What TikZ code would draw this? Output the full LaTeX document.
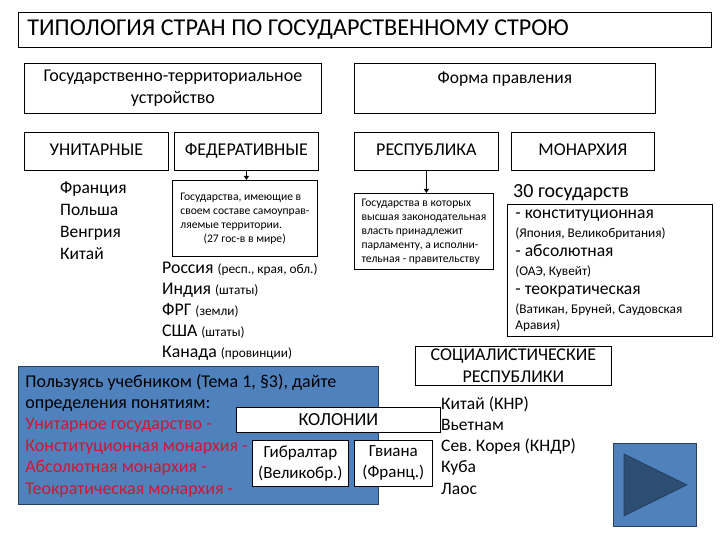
\documentclass[tikz,border=0pt]{standalone}
\usepackage{fontspec}
\setmainfont{Carlito}
\usetikzlibrary{arrows.meta}

\definecolor{slideblue}{RGB}{79,129,189}
\definecolor{slidenavy}{RGB}{37,64,97}
\definecolor{taskred}{RGB}{204,24,52}
\newcommand{\fsz}[2]{\fontsize{#1}{#2}\selectfont}
\newcommand{\aside}[1]{{\fsz{13.3}{19}#1}}
\newcommand{\term}[1]{\textcolor{taskred}{#1}}
\frenchspacing

\tikzset{
  box/.style={draw=black, line width=0.8pt, fill=white, anchor=north west, inner sep=0pt, align=center},
  typebox/.style={box, minimum width=144pt, minimum height=38pt, text height=12pt, text depth=3pt, font=\fsz{18}{20}},
  note/.style={box, align=flush left, minimum height=76pt, font=\fsz{11.6}{14}},
  plain/.style={anchor=north west, inner sep=0pt, align=flush left},
  down/.style={-{Triangle[length=4pt,width=5pt]}, line width=1.2pt},
}

\begin{document}
\begin{tikzpicture}[x=1pt, y=-1pt]
    \useasboundingbox (0,0) rectangle (720,540);

    % Title bar
    \node[box, align=flush left, text width=675pt, inner xsep=9pt, minimum height=35pt, font=\fsz{24.2}{28}] (title) at (18,12) {ТИПОЛОГИЯ СТРАН ПО ГОСУДАРСТВЕННОМУ СТРОЮ};

    % Two headings
    \node[box, minimum width=297pt, minimum height=50pt, font=\fsz{18}{22}] (terr) at (24,63) {Государственно-территориальное\\устройство};
    \node[box, minimum width=301pt, minimum height=50pt, font=\fsz{17.5}{22}] (rule) at (354,63) {Форма правления\\\mbox{}};

    % Types
    \node[typebox] (unitary) at (24,132) {УНИТАРНЫЕ};
    \node[typebox] (federal) at (174,132) {ФЕДЕРАТИВНЫЕ};
    \node[typebox] (republic) at (354,132) {РЕСПУБЛИКА};
    \node[typebox, minimum width=143pt] (monarchy) at (511,132) {МОНАРХИЯ};

    % Explanations under federal and republic
    \node[note, minimum width=145pt] (fednote) at (172,180) {Государства, имеющие в\\своем составе самоуправ-\\ляемые территории.\\\hspace*{2em}(27 гос-в в мире)};
    \node[note, minimum width=139pt] (repnote) at (354,193) {Государства в которых\\высшая законодательная\\власть принадлежит\\парламенту, а исполни-\\тельная - правительству};
    \draw[down] (federal.south) -- (federal.south |- fednote.north);
    \draw[down] (republic.south) -- (republic.south |- repnote.north);

    % Country lists
    \node[plain, font=\fsz{17.5}{22}] (unilist) at (60,182) {Франция\\Польша\\Венгрия\\Китай};
    \node[plain, font=\fsz{17.8}{21}] (fedlist) at (162,262) {Россия \aside{(респ., края, обл.)}\\Индия \aside{(штаты)}\\ФРГ \aside{(земли)}\\США \aside{(штаты)}\\Канада \aside{(провинции)}};

    % Monarchies
    \node[plain, font=\fsz{20}{22}] (count) at (513,184) {30 государств};
    \node[box, align=flush left, text width=189pt, inner xsep=8pt, minimum height=132pt, font=\fsz{17.6}{19}] (monlist) at (507,204) {- конституционная\\\aside{(Япония, Великобритания)}\\- абсолютная\\\aside{(ОАЭ, Кувейт)}\\- теократическая\\\aside{(Ватикан, Бруней, Саудовская}\\[-3pt]\aside{Аравия)}};

    % Socialist republics
    \node[box, minimum width=196pt, minimum height=39pt, font=\fsz{18}{22}] (social) at (415,346) {СОЦИАЛИСТИЧЕСКИЕ\\РЕСПУБЛИКИ};
    \node[plain, font=\fsz{17.5}{21.3}] (soclist) at (441,396) {Китай (КНР)\\Вьетнам\\Сев. Корея (КНДР)\\Куба\\Лаос};

    % Task panel
    \node[box, fill=slideblue, draw=slidenavy, align=flush left, text width=346pt, inner xsep=7pt, minimum height=138pt, font=\fsz{18}{21.4}] (task) at (18,366) {Пользуясь учебником (Тема 1, §3), дайте\\определения понятиям:\\\term{Унитарное государство -}\\\term{Конституционная монархия -}\\\term{Абсолютная монархия -}\\\term{Теократическая монархия -}};

    % Colonies
    \node[box, minimum width=204pt, minimum height=25pt, font=\fsz{18.4}{20}] (colonies) at (236,407) {КОЛОНИИ};
    \node[box, minimum width=96pt, minimum height=46pt, font=\fsz{17}{21}] (gibraltar) at (252,440) {Гибралтар\\(Великобр.)};
    \node[box, minimum width=78pt, minimum height=46pt, font=\fsz{17}{21}] (guiana) at (354,440) {Гвиана\\(Франц.)};

    % Play button
    \node[box, fill=slideblue, draw=slidenavy, minimum size=83pt] (play) at (613,443) {};
    \filldraw[fill=slidenavy!80!slideblue, draw=slidenavy, line width=0.8pt] ([shift={(11,11)}]play.north west) -- ([shift={(11,-11)}]play.south west) -- ([shift={(-10,0)}]play.east) -- cycle;
\end{tikzpicture}
\end{document}
